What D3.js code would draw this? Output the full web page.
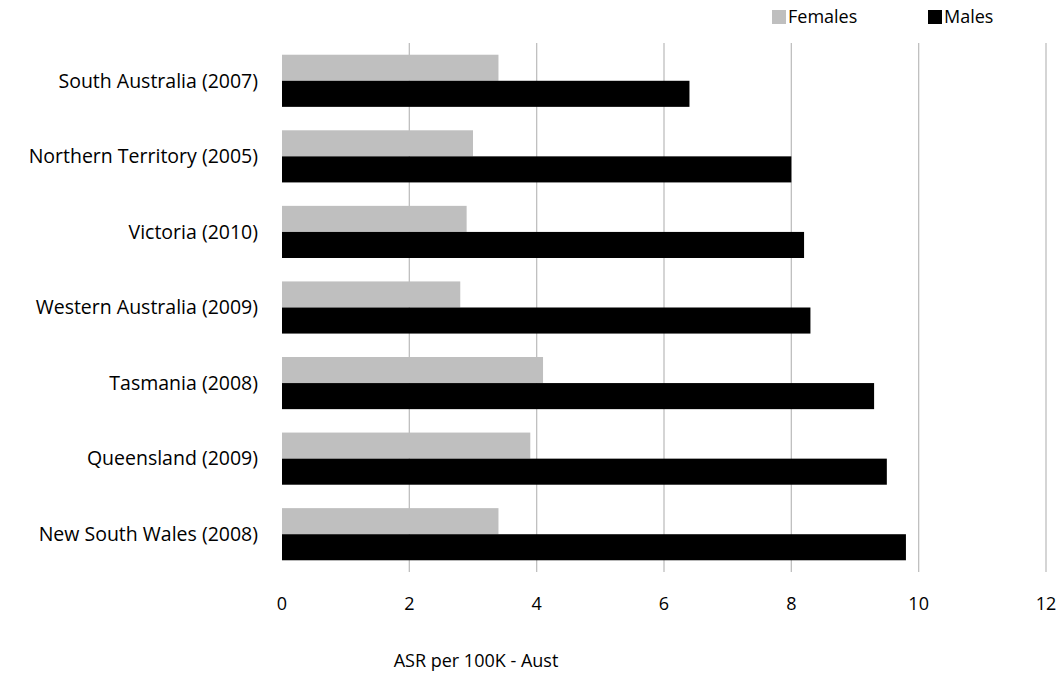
<!DOCTYPE html>
<html><head><meta charset="utf-8">
<script src="https://cdn.jsdelivr.net/npm/d3@7"></script>
<style>body{margin:0;background:#fff}text{font-family:"Open Sans",sans-serif;fill:#000}</style>
</head><body><svg id="c" width="1063" height="675"></svg>
<script>
const categories = ["South Australia (2007)","Northern Territory (2005)","Victoria (2010)","Western Australia (2009)","Tasmania (2008)","Queensland (2009)","New South Wales (2008)"];
const females = [3.4, 3.0, 2.9, 2.8, 4.1, 3.9, 3.4];
const males = [6.4, 8.0, 8.2, 8.3, 9.3, 9.5, 9.8];
const ticks = [0, 2, 4, 6, 8, 10, 12];
const series = [{name: "Females", values: females, color: "#bfbfbf"}, {name: "Males", values: males, color: "#000"}];

const svg = d3.select("#c");
const x = d3.scaleLinear().domain([0, 12]).range([282, 1046]);
const y = d3.scaleBand().domain(categories).range([43, 572]).paddingInner(0.31).paddingOuter(0.155);
const sub = d3.scaleBand().domain(series.map(s => s.name)).range([0, y.bandwidth()]);

svg.append("g").selectAll("line").data(ticks.slice(1)).join("line")
  .attr("x1", d => x(d)).attr("x2", d => x(d)).attr("y1", 43).attr("y2", 572)
  .attr("stroke", "#bfbfbf").attr("stroke-width", 1.3);

series.forEach(s => {
  svg.append("g").selectAll("rect").data(categories).join("rect")
    .attr("x", x(0)).attr("y", (d) => y(d) + sub(s.name))
    .attr("width", (d, i) => x(s.values[i]) - x(0)).attr("height", sub.bandwidth())
    .attr("fill", s.color);
});

svg.append("g").selectAll("text").data(categories).join("text")
  .attr("x", 258).attr("y", d => y(d) + y.bandwidth() / 2).attr("dy", "0.35em")
  .attr("text-anchor", "end").attr("font-size", 19.5).text(d => d);

svg.append("g").selectAll("text").data(ticks).join("text")
  .attr("x", d => x(d)).attr("y", 610).attr("text-anchor", "middle").attr("font-size", 18).text(d => d);

svg.append("text").attr("x", 476).attr("y", 667).attr("text-anchor", "middle").attr("font-size", 18).text("ASR per 100K - Aust");

const leg = svg.append("g").selectAll("g").data(series).join("g")
  .attr("transform", (d, i) => `translate(${772 + i * 156},10)`);
leg.append("rect").attr("width", 14).attr("height", 14).attr("fill", d => d.color);
leg.append("text").attr("x", 16).attr("y", 7).attr("dy", "0.35em").attr("font-size", 18).text(d => d.name);
</script></body></html>
